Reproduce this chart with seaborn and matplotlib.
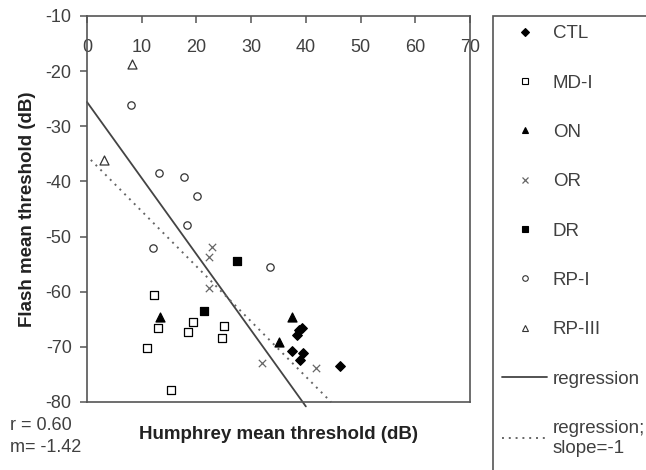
import pandas as pd
import matplotlib.pyplot as plt
import seaborn as sns
from matplotlib.lines import Line2D
from matplotlib.patches import Rectangle

sns.set_theme(style="ticks")
plt.rcParams['font.family'] = ['Liberation Sans', 'DejaVu Sans']
plt.rcParams['axes.unicode_minus'] = False

# values: Humphrey (x) vs flash (y) mean threshold, dB
ctl_x = [38.8, 39.3, 38.3, 37.4, 39.5, 38.9, 46.3]
ctl_y = [-66.9, -66.5, -67.9, -70.7, -71.1, -72.3, -73.5]
mdi_x = [12.2, 12.9, 10.9, 19.4, 18.5, 25.0, 24.7, 15.4]
mdi_y = [-60.6, -66.6, -70.2, -65.5, -67.3, -66.3, -68.4, -77.8]
on_x = [13.3, 37.4, 35.1]
on_y = [-64.5, -64.6, -69.1]
or_x = [22.8, 22.3, 22.3, 31.9, 41.8]
or_y = [-51.9, -53.7, -59.4, -73.0, -73.9]
dr_x = [27.4, 21.3]
dr_y = [-54.4, -63.5]
rpi_x = [8.0, 13.2, 17.8, 20.1, 18.3, 12.0, 33.5]
rpi_y = [-26.1, -38.5, -39.2, -42.6, -47.9, -52.1, -55.5]
rpiii_x = [8.2, 3.1]
rpiii_y = [-18.7, -36.1]

groups = ['CTL', 'MD-I', 'ON', 'OR', 'DR', 'RP-I', 'RP-III']
xs = [ctl_x, mdi_x, on_x, or_x, dr_x, rpi_x, rpiii_x]
ys = [ctl_y, mdi_y, on_y, or_y, dr_y, rpi_y, rpiii_y]

# fitted line and the slope=-1 line
reg_intercept, reg_slope, reg_xrange = -25.6, -1.38, (0.0, 40.0)
unit_intercept, unit_slope, unit_xrange = -35.4, -1.0, (0.7, 44.6)

df = pd.concat([pd.DataFrame({'group': g, 'x': x, 'y': y}) for g, x, y in zip(groups, xs, ys)])

styles = {
    'CTL': dict(marker='D', s=24, facecolor='black', edgecolor='black'),
    'MD-I': dict(marker='s', s=30, facecolor='white', edgecolor='black'),
    'ON': dict(marker='^', s=42, facecolor='black', edgecolor='black'),
    'OR': dict(marker='x', s=28, color='#666666'),
    'DR': dict(marker='s', s=30, facecolor='black', edgecolor='black'),
    'RP-I': dict(marker='o', s=28, facecolor='white', edgecolor='#333333'),
    'RP-III': dict(marker='^', s=42, facecolor='white', edgecolor='#333333'),
}

fig = plt.figure(figsize=(6.46, 4.70), dpi=100)
ax = fig.add_axes([87 / 646, 1 - 402 / 470, 383 / 646, 386 / 470])

for g in groups:
    sns.scatterplot(data=df[df.group == g], x='x', y='y', ax=ax, linewidth=0.9,
                    legend=False, zorder=3, **styles[g])

reg_df = pd.DataFrame({'x': list(reg_xrange)})
reg_df['y'] = reg_intercept + reg_slope * reg_df['x']
unit_df = pd.DataFrame({'x': list(unit_xrange)})
unit_df['y'] = unit_intercept + unit_slope * unit_df['x']
sns.lineplot(data=reg_df, x='x', y='y', ax=ax, color='#444444', lw=1.3, clip_on=False)
sns.lineplot(data=unit_df, x='x', y='y', ax=ax, color='#666666', lw=1.4,
             linestyle=(0, (1, 2.5)), clip_on=False)

ax.set_xlim(0, 70)
ax.set_ylim(-80, -10)
ax.set_xticks(range(0, 71, 10))
ax.set_yticks(range(-80, -9, 10))
for sp in ax.spines.values():
    sp.set_visible(True)
    sp.set_color('#555555')
    sp.set_linewidth(1.2)

ax.tick_params(axis='x', bottom=False, top=True, labelbottom=False, labeltop=True,
               direction='in', length=5, width=1.1, pad=-29, labelsize=13,
               color='#555555', labelcolor='#404040')
ax.tick_params(axis='y', left=True, direction='out', length=5, width=1.1, pad=6,
               labelsize=13, color='#555555', labelcolor='#404040')

ax.set_xlabel('Humphrey mean threshold (dB)', fontsize=13.5, fontweight='bold',
              color='#222222', labelpad=17)
ax.set_ylabel('Flash mean threshold (dB)', fontsize=13.5, fontweight='bold',
              color='#222222', labelpad=7)

fig.text(10 / 646, 1 - 425 / 470, 'r = 0.60', fontsize=13, color='#404040', va='center')
fig.text(10 / 646, 1 - 447 / 470, 'm= -1.42', fontsize=13, color='#404040', va='center')

# legend
handles = []
for g in groups:
    st = styles[g]
    if st['marker'] == 'x':
        h = Line2D([], [], marker='x', ls='none', markersize=4, color=st['color'], mew=0.9)
    else:
        h = Line2D([], [], marker=st['marker'], ls='none', markersize=4,
                   mfc=st['facecolor'], mec=st['edgecolor'], mew=0.8)
    handles.append(h)
handles.append(Line2D([], [], color='#444444', lw=1.3))
handles.append(Line2D([], [], color='#666666', lw=1.4, ls=(0, (1, 2.5))))
labels = groups + ['regression', 'regression;\nslope=-1']

fig.legend(handles, labels, loc='upper left', bbox_to_anchor=(502 / 646, 1 - 25 / 470),
           frameon=False, fontsize=13.5, borderpad=0, borderaxespad=0,
           handlelength=2.4, handletextpad=0.3, labelspacing=1.72, labelcolor='#404040')
fig.add_artist(Rectangle((493 / 646, -0.1), 0.4, 1.1 - 16 / 470, transform=fig.transFigure,
                         fill=False, ec='#555555', lw=1.2))

fig.savefig('out.png', dpi=100)
